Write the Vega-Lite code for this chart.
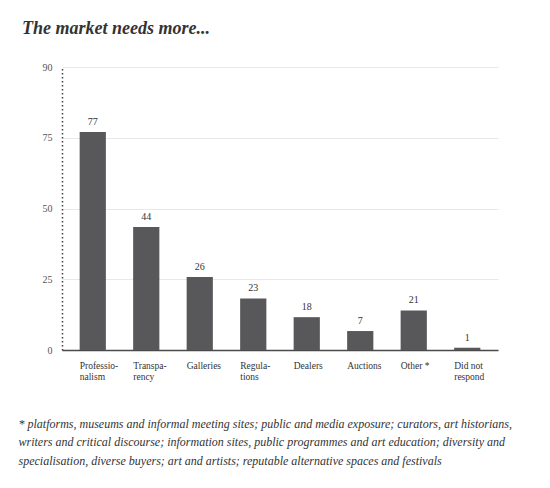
{
  "$schema": "https://vega.github.io/schema/vega-lite/v6.json",
  "description": "Bar chart: what the market needs more of.",
  "autosize": "none",
  "padding": {"left": 62, "top": 67, "right": 52, "bottom": 138},
  "width": 436,
  "height": 283,
  "background": "white",
  "title": {
    "text": "The market needs more...",
    "anchor": "start",
    "frame": "group",
    "dx": -40,
    "offset": 24,
    "font": "Liberation Serif",
    "fontStyle": "italic",
    "fontWeight": "bold",
    "fontSize": 18,
    "color": "#333333"
  },
  "data": {
    "values": [
      {"category": "Professio-|nalism", "height": 77, "label": "77"},
      {"category": "Transpa-|rency", "height": 43.5, "label": "44"},
      {"category": "Galleries", "height": 25.8, "label": "26"},
      {"category": "Regula-|tions", "height": 18.2, "label": "23"},
      {"category": "Dealers", "height": 11.6, "label": "18"},
      {"category": "Auctions", "height": 6.7, "label": "7"},
      {"category": "Other *", "height": 14, "label": "21"},
      {"category": "Did not|respond", "height": 0.8, "label": "1"}
    ]
  },
  "encoding": {
    "x": {
      "field": "category",
      "type": "nominal",
      "sort": null,
      "scale": {"paddingInner": 0.51, "paddingOuter": 0.33},
      "axis": {
        "title": [
          "* platforms, museums and informal meeting sites; public and media exposure; curators, art historians,",
          "writers and critical discourse; information sites, public programmes and art education; diversity and",
          "specialisation, diverse buyers; art and artists; reputable alternative spaces and festivals"
        ],
        "titleFont": "Liberation Serif",
        "titleFontStyle": "italic",
        "titleFontWeight": "normal",
        "titleFontSize": 12,
        "titleColor": "#333333",
        "titleLineHeight": 18.5,
        "titleAnchor": "start",
        "titleAlign": "left",
        "titleBaseline": "top",
        "titleX": -44,
        "titleY": 68,
        "labelAngle": 0,
        "labelAlign": "left",
        "labelBaseline": "top",
        "labelOffset": -13,
        "labelPadding": 10,
        "labelFont": "Liberation Serif",
        "labelFontSize": 9.5,
        "labelLineHeight": 11,
        "labelColor": "#333333",
        "labelExpr": "split(datum.label, '|')",
        "ticks": false,
        "domainColor": "#4a4a4a",
        "domainWidth": 1.5
      }
    }
  },
  "layer": [
    {
      "mark": {"type": "bar", "color": "#58585a"},
      "encoding": {
        "y": {
          "field": "height",
          "type": "quantitative",
          "scale": {"domain": [0, 100]},
          "axis": {
            "title": null,
            "values": [0, 25, 50, 75, 100],
            "labelExpr": "datum.value == 100 ? '90' : datum.label",
            "labelFont": "Liberation Serif",
            "labelFontSize": 10,
            "labelColor": "#555555",
            "labelPadding": 10,
            "ticks": false,
            "domainDash": [1.5, 2.5],
            "domainColor": "#444444",
            "domainWidth": 1.5,
            "grid": true,
            "gridColor": "#e8e8e8",
            "gridWidth": 1
          }
        }
      }
    },
    {
      "mark": {
        "type": "text",
        "baseline": "bottom",
        "dy": -5,
        "font": "Liberation Serif",
        "fontSize": 10,
        "color": "#333333"
      },
      "encoding": {
        "y": {"field": "height", "type": "quantitative"},
        "text": {"field": "label"}
      }
    }
  ],
  "config": {"view": {"stroke": null}}
}
